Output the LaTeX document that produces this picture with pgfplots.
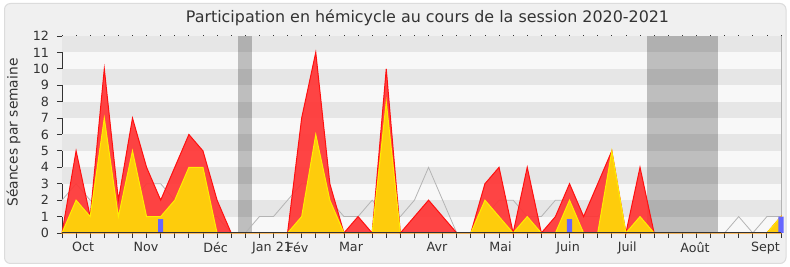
\documentclass[border=0pt]{standalone}
\usepackage{fontspec}
\setmainfont{DejaVu Sans}
\usepackage{pgfplots}
\pgfplotsset{compat=1.18}
\usepackage{pgfplotstable}

\definecolor{bgout}{HTML}{F0F0F0}
\definecolor{bordercol}{HTML}{DCDCDC}
\definecolor{stripelight}{HTML}{F8F8F8}
\definecolor{stripedark}{HTML}{E6E6E6}
\definecolor{axiscol}{HTML}{333333}
\definecolor{txtcol}{HTML}{333333}
\definecolor{medcol}{HTML}{B4B4B4}
\definecolor{redfill}{HTML}{FF3535}
\definecolor{redline}{HTML}{FF1010}
\definecolor{yelfill}{HTML}{FFD40A}
\definecolor{yelline}{HTML}{FFEE00}
\definecolor{bluebar}{HTML}{6666FF}

\pgfplotstableread{
i red yel med
0 0 0 2
1 5 2 3
2 1 1 2
3 10 7 2
4 2 1 2
5 7 5 2
6 4 1 3
7 2 1 3
8 4 2 2
9 6 4 3
10 5 4 1
11 2 0 1
12 0 0 0
13 0 0 0
14 0 0 1
15 0 0 1
16 0 0 2
17 7 1 3
18 11 6 3
19 3 2 2
20 0 0 1
21 1 0 1
22 0 0 2
23 10 8 1
24 0 0 1
25 1 0 2
26 2 0 4
27 1 0 2
28 0 0 0
29 0 0 0
30 3 2 1
31 4 1 2
32 0 0 2
33 4 1 1
34 0 0 1
35 1 0 2
36 3 2 2
37 1 0 1
38 3 0 1
39 5 5 2
40 0 0 0
41 4 1 0
42 0 0 0
43 0 0 0
44 0 0 0
45 0 0 0
46 0 0 0
47 0 0 0
48 0 0 1
49 0 0 0
50 0 0 1
51 1 1 1
}\datatable

\begin{document}
\begin{tikzpicture}[x=1pt,y=1pt]
\path[use as bounding box] (0,0) rectangle (790,267);
\fill[white] (0,0) rectangle (790,267);
\filldraw[fill=bgout, draw=bordercol, line width=1pt, rounded corners=6pt] (4.5,3.5) rectangle (786,263.5);
\node[font=\fontsize{15.9}{18}\selectfont, text=txtcol] at (427.5,249) {Participation en hémicycle au cours de la session 2020-2021};
\node[font=\fontsize{13.8}{16}\selectfont, text=txtcol, rotate=90] at (13.5,134.5) {Séances par semaine};
\begin{axis}[
  at={(62pt,34pt)}, anchor=south west,
  width=719pt, height=197pt, scale only axis,
  xmin=0, xmax=51, ymin=0, ymax=12,
  axis x line*=bottom, axis y line*=left,
  axis line style={color=axiscol, line width=1pt},
  axis background/.style={fill=stripelight},
  xtick={0,...,51}, xticklabels={},
  ytick={0,...,12},
  extra x ticks={1.5,5.96,10.9,14.9,16.7,20.5,26.6,31.1,35.9,40.1,44.9,49.9},
  extra x tick labels={Oct,Nov,Déc,Jan 21,Fév,Mar,Avr,Mai,Juin,Juil,Août,Sept},
  extra x tick style={major tick length=0pt, tick label style={yshift=-5.5pt}},
  tick align=outside, major tick length=5pt,
  tick style={color=axiscol, line width=0.9pt},
  ticklabel style={font=\fontsize{12.7}{14}\selectfont, text=txtcol},
  /pgf/number format/assume math mode=true,
  y tick label style={xshift=-4.5pt},
  clip=false,
]
\pgfplotsinvokeforeach{1,3,5,7,9,11}{
  \fill[stripedark] (axis cs:0,#1) rectangle (axis cs:51,{#1+1});
}
\fill[black, opacity=0.23] (axis cs:12.5,0) rectangle (axis cs:13.5,12);
\fill[black, opacity=0.23] (axis cs:41.5,0) rectangle (axis cs:46.5,12);
\draw[medcol, line width=0.6pt] (axis cs:51,0) -- (axis cs:51,12);
\pgfplotsinvokeforeach{0,...,51}{
  \draw[axiscol, line width=0.8pt] (axis cs:#1,12) -- ++(0,1.2pt);
}
\addplot[color=medcol, line width=0.8pt] table[x=i,y=med]{\datatable};
\addplot[fill=redfill, fill opacity=0.92, draw=redline, line width=1pt] table[x=i,y=red]{\datatable} \closedcycle;
\addplot[fill=yelfill, fill opacity=0.95, draw=yelline, line width=1pt] table[x=i,y=yel]{\datatable} \closedcycle;
\addplot[ybar, bar width=0.36, fill=bluebar, draw=none] coordinates {(7,0.85) (36,0.85) (51,1)};
\draw[axiscol, line width=1pt] (axis cs:0,0) -- (axis cs:51,0);
\end{axis}
\end{tikzpicture}
\end{document}
